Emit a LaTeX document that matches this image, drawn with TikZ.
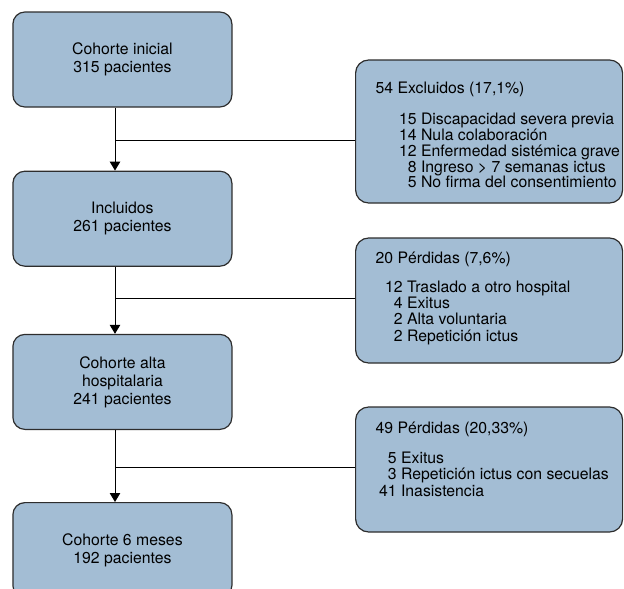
\documentclass[tikz,border=0pt]{standalone}
\usepackage{fontspec}
\setmainfont{TeX Gyre Heros}
\usepackage{tikz}
\usetikzlibrary{shapes,arrows.meta}
\usetikzlibrary{positioning}
\definecolor{boxblue}{RGB}{163,189,212}
\definecolor{boxline}{RGB}{45,45,45}
\tikzstyle{line} = [draw, -{Triangle[length=9pt,width=10.5pt]}, line width=1pt]
\tikzstyle{branch} = [draw, line width=0.9pt]
% #1 height, #2 top pad, #3 indent, #4 row skip, #5 extra gap, #6 header, #7 rows
\newcommand{\losslist}[7]{\parbox[c][#1][t]{267pt}{\fontsize{15.8}{#4}\selectfont
	\begin{tabular}[t]{@{\hspace{#3}}r@{\ }l@{}}
		\multicolumn{2}{@{\hspace{20pt}}l@{}}{\rule{0pt}{#2}#6}\\[#5]
		#7
	\end{tabular}}}

\begin{document}
\begin{tikzpicture}[x=1pt, y=-1pt,
	cohort/.style={draw=boxline, fill=boxblue, line width=1.2pt, rounded corners=12pt,
		minimum width=219pt, minimum height=95pt, align=center, inner sep=0pt,
		font=\fontsize{15.8}{18}\selectfont},
	loss/.style={draw=boxline, fill=boxblue, line width=1.2pt, rounded corners=13pt,
		inner sep=0pt}]
	\useasboundingbox (0,0) rectangle (624,589);
	\node [cohort] (ini) at (122.4,59.5) {Cohorte inicial\\315 pacientes};
	\node [cohort, below=63pt of ini] (inc) {Incluidos\\261 pacientes};
	\node [cohort, below=67pt of inc] (alta) {Cohorte alta\\hospitalaria\\241 pacientes};
	\node [cohort, below=72pt of alta] (seis) {Cohorte 6 meses\\192 pacientes};
	\node [loss] (excl) at (489.1,131.5) {\losslist{143pt}{33pt}{43.5pt}{14.6pt}{15.4pt}%
		{54 Excluidos (17,1\%)}{%
		15 & Discapacidad severa previa\\
		14 & Nula colaboración\\
		12 & Enfermedad sistémica grave\\
		8 & Ingreso > 7 semanas ictus\\
		5 & No firma del consentimiento}};
	\node [loss] (perd1) at (489.1,300.5) {\losslist{125pt}{25pt}{29.5pt}{16pt}{13pt}%
		{20 Pérdidas (7,6\%)}{%
		12 & Traslado a otro hospital\\
		4 & Exitus\\
		2 & Alta voluntaria\\
		2 & Repetición ictus}};
	\node [loss] (perd2) at (489.1,469.5) {\losslist{125pt}{26pt}{23.5pt}{16.5pt}{13.5pt}%
		{49 Pérdidas (20,33\%)}{%
		5 & Exitus\\
		3 & Repetición ictus con secuelas\\
		41 & Inasistencia}};
	\coordinate (h1) at (115,140);
	\coordinate (h2) at (115,298);
	\coordinate (h3) at (115,467);
	%% Flows
	\path [line] (ini.south -| h1) -- (inc.north -| h1);
	\path [line] (inc.south -| h2) -- (alta.north -| h2);
	\path [line] (alta.south -| h3) -- (seis.north -| h3);
	\path [branch] (h1) -- (excl.west |- h1);
	\path [branch] (h2) -- (perd1.west |- h2);
	\path [branch] (h3) -- (perd2.west |- h3);
\end{tikzpicture}
\end{document}
